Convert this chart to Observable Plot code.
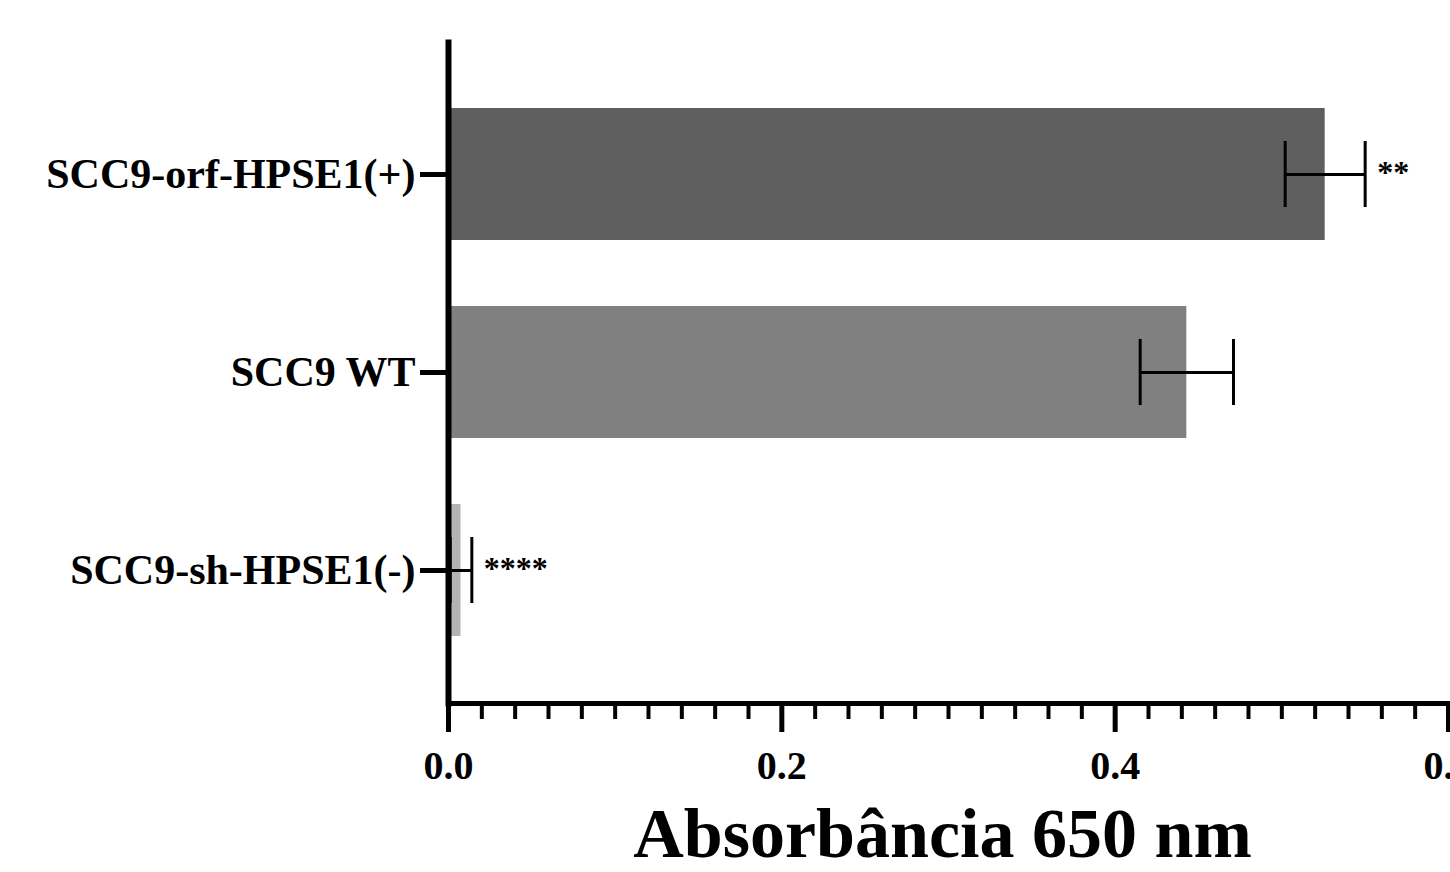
<!DOCTYPE html>
<html>
<head>
<meta charset="utf-8">
<script src="https://cdn.jsdelivr.net/npm/d3@7"></script>
<script src="https://cdn.jsdelivr.net/npm/@observablehq/plot@0.6"></script>
<style>
  html, body { margin: 0; padding: 0; background: #fff; }
  #chart svg { display: block; }
</style>
</head>
<body>
<div id="chart"></div>
<script>
const categories = ["SCC9-orf-HPSE1(+)", "SCC9 WT", "SCC9-sh-HPSE1(-)"];
const means = [0.526, 0.443, 0.0075];
const errors = [0.024, 0.028, 0.0065];
const significance = ["**", "", "****"];
const barColors = ["#5f5f5f", "#808080", "#b4b4b4"];
const majorTicks = [0, 0.2, 0.4, 0.6];
const majorTickLabels = ["0.0", "0.2", "0.4", "0.6"];
const minorTicks = [0.02, 0.04, 0.06, 0.08, 0.1, 0.12, 0.14, 0.16, 0.18,
  0.22, 0.24, 0.26, 0.28, 0.3, 0.32, 0.34, 0.36, 0.38,
  0.42, 0.44, 0.46, 0.48, 0.5, 0.52, 0.54, 0.56, 0.58];
const xTitle = "Absorbância 650 nm";

const data = categories.map((c, i) => ({
  cat: c, mean: means[i], err: errors[i], sig: significance[i], color: barColors[i]
}));
const lo = d => Math.max(0, d.mean - d.err);
const hi = d => d.mean + d.err;

const serif = "'Liberation Serif', 'Times New Roman', serif";

const chart = Plot.plot({
  width: 1450,
  height: 872,
  marginLeft: 448,
  marginRight: 2,
  marginTop: 42,
  marginBottom: 169,
  style: { fontFamily: serif, background: "#fff", color: "#000" },
  x: { domain: [0, 0.6] },
  y: { domain: categories, paddingInner: 0.333, paddingOuter: 0.33 },
  color: { type: "identity" },
  marks: [
    Plot.barX(data, { x: "mean", y: "cat", fill: "color" }),
    Plot.ruleY(data, { y: "cat", x1: lo, x2: hi, stroke: "#000", strokeWidth: 3 }),
    Plot.tickX(data, { x: lo, y: "cat", stroke: "#000", strokeWidth: 3, insetTop: 33, insetBottom: 33 }),
    Plot.tickX(data, { x: hi, y: "cat", stroke: "#000", strokeWidth: 3, insetTop: 33, insetBottom: 33 }),
    Plot.text(data.filter(d => d.sig), {
      x: hi, y: "cat", text: "sig", dx: 12, dy: -2, textAnchor: "start",
      fontSize: 32, fontWeight: "bold", fontFamily: serif, fill: "#000"
    }),
    Plot.axisX(minorTicks, { tickSize: 16, strokeWidth: 4, text: null, label: null }),
    Plot.axisX(majorTicks, {
      tickSize: 29, strokeWidth: 5, tickPadding: 18,
      tickFormat: d => majorTickLabels[majorTicks.indexOf(d)],
      fontSize: 40, fontWeight: "bold", fontFamily: serif, label: null
    }),
    Plot.axisY({
      tickSize: 28, strokeWidth: 5, tickPadding: 5,
      fontSize: 42, fontWeight: "bold", fontFamily: serif, label: null
    }),
    Plot.frame({ anchor: "left", strokeWidth: 6, stroke: "#000" }),
    Plot.frame({ anchor: "bottom", strokeWidth: 5, stroke: "#000" }),
    Plot.text([xTitle], {
      frameAnchor: "bottom", dy: 153, dx: -6, text: d => d,
      fontSize: 70, fontWeight: "bold", fontFamily: serif, fill: "#000"
    })
  ]
});
document.getElementById("chart").appendChild(chart);
</script>
</body>
</html>
